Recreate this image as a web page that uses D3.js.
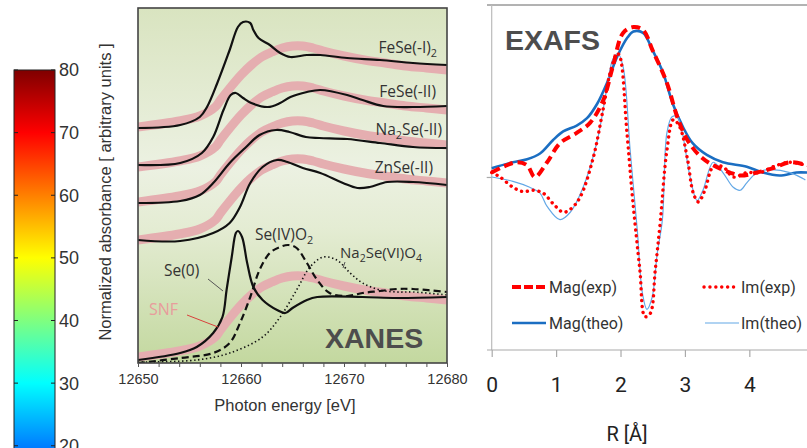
<!DOCTYPE html>
<html><head><meta charset="utf-8">
<script src="https://cdn.jsdelivr.net/npm/d3@7"></script>
<style>body{margin:0;background:#fff;} svg{display:block;}</style>
</head><body><svg id="c" width="807" height="448"></svg>
<script>
// ---------- DATA ----------
const colorbarTicks = [20, 30, 40, 50, 60, 70, 80];
const colorbarDomain = [0, 80];
const xanesTicks = [12650, 12660, 12670, 12680];

// SNF spectrum shape (pink band), repeated under each reference with an offset
const snfE = [12650, 12654, 12656, 12657.5, 12658, 12659, 12660, 12661, 12662, 12663, 12664, 12665, 12666, 12667, 12668, 12670, 12672, 12674, 12676, 12678, 12680];
const snfV = [0, 0.06, 0.11, 0.2, 0.27, 0.40, 0.52, 0.62, 0.70, 0.75, 0.79, 0.81, 0.81, 0.79, 0.76, 0.71, 0.67, 0.64, 0.61, 0.59, 0.57];
const snfOffsets = [2.36, 1.96, 1.61, 1.23, 0.06];

const feSeI2E = [12650, 12654.1, 12656, 12656.7, 12657.7, 12658.9, 12659.7, 12660.2, 12660.9, 12661.2, 12661.7, 12662.8, 12663.8, 12664.8, 12666.4, 12667.7, 12670.3, 12673.5, 12676.7, 12680];
const feSeI2V = [2.35, 2.38, 2.46, 2.56, 2.80, 3.13, 3.36, 3.41, 3.40, 3.33, 3.25, 3.18, 3.10, 3.06, 3.08, 3.08, 3.05, 3.03, 3.00, 2.98];

const feSeIIE = [12650, 12654.1, 12656.2, 12657.3, 12658.3, 12659, 12659.5, 12660.2, 12661, 12662.6, 12663.8, 12664.8, 12666.4, 12667.7, 12670.3, 12671.8, 12673.8, 12676.7, 12680];
const feSeIIV = [1.98, 2.00, 2.10, 2.26, 2.53, 2.68, 2.70, 2.65, 2.60, 2.56, 2.60, 2.66, 2.71, 2.73, 2.68, 2.63, 2.57, 2.56, 2.57];

const na2SeE = [12650, 12654.1, 12656, 12657.3, 12658.9, 12660.5, 12661.8, 12663.4, 12664.7, 12666.3, 12667.6, 12670.3, 12673.5, 12676.7, 12680];
const na2SeV = [1.60, 1.62, 1.68, 1.80, 2.00, 2.16, 2.28, 2.33, 2.31, 2.26, 2.25, 2.24, 2.20, 2.16, 2.15];

const znSeE = [12650, 12654.1, 12657.3, 12658.9, 12659.9, 12660.9, 12662.1, 12663.5, 12664.5, 12666, 12667.7, 12669.9, 12671.3, 12672.5, 12674.2, 12676.7, 12680];
const znSeV = [1.23, 1.22, 1.30, 1.40, 1.56, 1.80, 1.96, 2.03, 2.01, 1.95, 1.90, 1.80, 1.75, 1.76, 1.81, 1.81, 1.78];

const se0E = [12650, 12654.1, 12655.7, 12657.3, 12658.2, 12658.6, 12659.1, 12659.5, 12659.7, 12660.1, 12660.6, 12661.2, 12662.1, 12663.5, 12664.3, 12665, 12666.4, 12667.4, 12671.8, 12675.1, 12680];
const se0V = [0.03, 0.10, 0.16, 0.30, 0.46, 0.73, 1.06, 1.30, 1.32, 1.26, 1.00, 0.76, 0.63, 0.53, 0.50, 0.55, 0.63, 0.66, 0.66, 0.65, 0.66];

const seO2E = [12650, 12654.1, 12657.3, 12658.9, 12659.9, 12660.9, 12661.8, 12662.8, 12663.8, 12664.6, 12665.4, 12666.4, 12667.4, 12668.6, 12670.3, 12671.8, 12673.5, 12675.1, 12676.7, 12680];
const seO2V = [0.00, 0.05, 0.10, 0.20, 0.40, 0.66, 0.93, 1.10, 1.16, 1.18, 1.15, 1.00, 0.83, 0.70, 0.67, 0.70, 0.72, 0.74, 0.74, 0.71];

const na2SeO4E = [12650, 12655.7, 12658.9, 12662.1, 12663.8, 12665.4, 12666.7, 12668, 12669.3, 12670.6, 12671.8, 12673.5, 12675.1, 12676.7, 12680];
const na2SeO4V = [0.01, 0.03, 0.10, 0.26, 0.46, 0.73, 0.96, 1.06, 1.03, 0.90, 0.80, 0.73, 0.71, 0.71, 0.68];

// EXAFS
const exafsTicks = [0, 1, 2, 3, 4];
const magTheoR = [0, 0.33, 0.55, 0.75, 0.95, 1.11, 1.32, 1.48, 1.64, 1.79, 1.95, 2.11, 2.20, 2.35, 2.50, 2.66, 2.81, 2.97, 3.12, 3.34, 3.59, 3.96, 4.21, 4.47, 4.73, 4.90];
const magTheoV = [0.06, 0.10, 0.12, 0.16, 0.25, 0.31, 0.35, 0.40, 0.50, 0.64, 0.82, 0.95, 0.99, 0.98, 0.86, 0.71, 0.50, 0.34, 0.23, 0.15, 0.10, 0.07, 0.03, 0.01, 0.03, 0.03];

const magExpR = [0, 0.18, 0.39, 0.55, 0.67, 0.86, 1.06, 1.32, 1.53, 1.73, 1.88, 2.04, 2.20, 2.35, 2.50, 2.72, 2.88, 3.04, 3.24, 3.44, 3.70, 3.86, 4.12, 4.37, 4.63, 4.90];
const magExpV = [0.03, 0.07, 0.10, 0.08, 0.00, 0.10, 0.23, 0.30, 0.37, 0.52, 0.75, 0.98, 1.02, 1.00, 0.86, 0.64, 0.41, 0.25, 0.14, 0.08, 0.03, 0.01, 0.03, 0.06, 0.10, 0.08];

const imExpR = [0, 0.13, 0.33, 0.49, 0.64, 0.80, 0.95, 1.11, 1.22, 1.37, 1.57, 1.73, 1.84, 1.95, 1.99, 2.10, 2.19, 2.30, 2.38, 2.46, 2.54, 2.62, 2.72, 2.82, 2.92, 3.04, 3.13, 3.21, 3.31, 3.44, 3.59, 3.75, 3.96, 4.17, 4.37, 4.63, 4.87];
const imExpV = [0.03, 0.00, -0.07, -0.10, -0.09, -0.11, -0.18, -0.24, -0.22, -0.14, 0.12, 0.46, 0.71, 0.84, 0.82, 0.30, -0.16, -0.63, -0.95, -0.93, -0.63, -0.29, 0.18, 0.39, 0.34, 0.12, -0.11, -0.17, -0.09, 0.07, 0.07, 0.00, 0.03, 0.03, 0.07, 0.10, 0.08];

const imTheoR = [0, 0.33, 0.59, 0.75, 0.86, 1.06, 1.22, 1.42, 1.64, 1.79, 1.88, 1.96, 2.04, 2.15, 2.26, 2.34, 2.41, 2.49, 2.57, 2.65, 2.72, 2.80, 2.88, 2.96, 3.08, 3.19, 3.28, 3.44, 3.59, 3.75, 3.86, 3.96, 4.12, 4.32, 4.63, 4.87];
const imTheoV = [0.00, -0.03, -0.07, -0.11, -0.20, -0.29, -0.24, -0.07, 0.25, 0.61, 0.80, 0.84, 0.75, 0.18, -0.36, -0.79, -0.90, -0.82, -0.52, -0.29, 0.30, 0.41, 0.41, 0.30, 0.00, -0.16, -0.09, 0.10, 0.03, -0.07, -0.09, -0.04, 0.03, 0.05, 0.03, -0.02];

// ---------- DRAW ----------
const svg = d3.select("#c");
const defs = svg.append("defs");
const zip = (a, b) => a.map((d, i) => [d, b[i]]);
const sans = "Liberation Sans, Arial, sans-serif";
const calib = "Roboto, Open Sans, sans-serif";

// Colorbar (jet)
const cbY = d3.scaleLinear().domain(colorbarDomain).range([571, 70]);
const jet = [[0, "#00007f"], [0.125, "#0000ff"], [0.375, "#00ffff"], [0.625, "#ffff00"], [0.875, "#ff0000"], [1, "#7f0000"]];
const cg = defs.append("linearGradient").attr("id", "jet").attr("gradientUnits", "userSpaceOnUse")
  .attr("x1", 0).attr("x2", 0).attr("y1", cbY(colorbarDomain[0])).attr("y2", cbY(colorbarDomain[1]));
jet.forEach(s => cg.append("stop").attr("offset", s[0]).attr("stop-color", s[1]));
const cb = svg.append("g");
cb.append("rect").attr("x", 14).attr("y", cbY(80)).attr("width", 41).attr("height", cbY(0) - cbY(80))
  .attr("fill", "url(#jet)").attr("stroke", "#222").attr("stroke-width", 1);
colorbarTicks.forEach(t => {
  cb.append("line").attr("x1", 14).attr("x2", 18).attr("y1", cbY(t)).attr("y2", cbY(t)).attr("stroke", "#222");
  cb.append("line").attr("x1", 51).attr("x2", 55).attr("y1", cbY(t)).attr("y2", cbY(t)).attr("stroke", "#222");
  cb.append("text").attr("x", 59).attr("y", cbY(t)).attr("dy", "0.36em")
    .attr("font-family", sans).attr("font-size", 18).attr("fill", "#333").text(t);
});

// XANES panel
const xX = d3.scaleLinear().domain([12650, 12680]).range([138, 447]);
const yX = d3.scaleLinear().domain([0, 3.55]).range([363, 8]);
const gg = defs.append("linearGradient").attr("id", "grn").attr("x1", 0).attr("x2", 0).attr("y1", 0).attr("y2", 1);
[[0, "#d9e4c0"], [0.45, "#ecf1e2"], [0.62, "#e4ecd3"], [1, "#c3d89f"]].forEach(s => gg.append("stop").attr("offset", s[0]).attr("stop-color", s[1]));
defs.append("clipPath").attr("id", "xclip").append("rect").attr("x", 138).attr("y", 8).attr("width", 309).attr("height", 355);
const xp = svg.append("g");
xp.append("rect").attr("x", 138).attr("y", 8).attr("width", 309).attr("height", 355).attr("fill", "url(#grn)");
const xc = xp.append("g").attr("clip-path", "url(#xclip)");
const lineX = d3.line().x(d => xX(d[0])).y(d => yX(d[1])).curve(d3.curveCatmullRom.alpha(0.5));

snfOffsets.forEach(o => {
  xc.append("path").attr("d", lineX(snfE.map((e, i) => [e, snfV[i] + o])))
    .attr("fill", "none").attr("stroke", "#e5aeb0").attr("stroke-width", 9).attr("stroke-linecap", "butt");
});
[[feSeI2E, feSeI2V], [feSeIIE, feSeIIV], [na2SeE, na2SeV], [znSeE, znSeV], [se0E, se0V]].forEach(s => {
  xc.append("path").attr("d", lineX(zip(s[0], s[1]))).attr("fill", "none").attr("stroke", "#111").attr("stroke-width", 2.2);
});
xc.append("path").attr("d", lineX(zip(seO2E, seO2V))).attr("fill", "none").attr("stroke", "#111")
  .attr("stroke-width", 2.2).attr("stroke-dasharray", "7,4");
xc.append("path").attr("d", lineX(zip(na2SeO4E, na2SeO4V))).attr("fill", "none").attr("stroke", "#111")
  .attr("stroke-width", 1.6).attr("stroke-dasharray", "1.4,2.6");

xp.append("rect").attr("x", 138).attr("y", 8).attr("width", 309).attr("height", 355)
  .attr("fill", "none").attr("stroke", "#444").attr("stroke-width", 1.6);

const ax = xp.append("g").attr("transform", "translate(0,363)")
  .call(d3.axisBottom(xX).tickValues(d3.range(12650, 12681, 2)).tickSize(4).tickPadding(7)
    .tickFormat(d => xanesTicks.includes(d) ? d : ""));
ax.select(".domain").remove();
ax.selectAll("line").attr("stroke", "#555");
ax.selectAll("text").attr("font-family", sans).attr("font-size", 14.5).attr("fill", "#333");

const lbl = (x, y, anchor, parts, size, fill) => {
  const t = xp.append("text").attr("x", x).attr("y", y).attr("text-anchor", anchor)
    .attr("font-family", "Open Sans, sans-serif").attr("font-size", size).attr("fill", fill || "#333");
  let low = false;
  parts.forEach(p => {
    if (typeof p === "string") { t.append("tspan").attr("dy", low ? -4 : 0).text(p); low = false; }
    else { t.append("tspan").attr("font-size", size * 0.7).attr("dy", 4).text(p.sub); low = true; }
  });
  return t;
};
lbl(437, 53, "end", ["FeSe(-I)", {sub: "2"}], 15.5);
lbl(436, 97, "end", ["FeSe(-II)"], 15.5);
lbl(442, 135, "end", ["Na", {sub: "2"}, "Se(-II)"], 15.5);
lbl(433, 173, "end", ["ZnSe(-II)"], 15.5);
lbl(255, 240, "start", ["Se(IV)O", {sub: "2"}], 15.5);
lbl(340, 258, "start", ["Na", {sub: "2"}, "Se(VI)O", {sub: "4"}], 15);
lbl(164, 276, "start", ["Se(0)"], 15.5);
lbl(149, 315, "start", ["SNF"], 16, "#e89c9c");
xp.append("line").attr("x1", 208).attr("y1", 279).attr("x2", 223).attr("y2", 291).attr("stroke", "#555").attr("stroke-width", 1);
xp.append("line").attr("x1", 345).attr("y1", 262).attr("x2", 343).attr("y2", 268).attr("stroke", "#555").attr("stroke-width", 1);
xp.append("line").attr("x1", 187).attr("y1", 315).attr("x2", 218).attr("y2", 327).attr("stroke", "#d9413c").attr("stroke-width", 1);
xp.append("text").attr("x", 325).attr("y", 348).attr("font-family", sans)
  .attr("font-weight", "bold").attr("font-size", 28.5).attr("fill", "#4d4d4d").text("XANES");
xp.append("text").attr("x", 285).attr("y", 411).attr("text-anchor", "middle").attr("font-family", sans)
  .attr("font-size", 16.5).attr("fill", "#333").text("Photon energy [eV]");
xp.append("text").attr("transform", "translate(111,192) rotate(-90)").attr("text-anchor", "middle")
  .attr("font-family", sans).attr("font-size", 16.5).attr("fill", "#333")
  .text("Normalized absorbance [ arbitrary units ]");

// EXAFS panel
const xE = d3.scaleLinear().domain([0, 4.9]).range([491.7, 807.3]);
const yE = d3.scaleLinear().domain([-1.177, 1.170]).range([350, 5]);
const ep = svg.append("g");
ep.append("line").attr("x1", 487).attr("x2", 807).attr("y1", 5).attr("y2", 5).attr("stroke", "#666").attr("stroke-width", 1);
ep.append("line").attr("x1", 491.7).attr("x2", 491.7).attr("y1", 5).attr("y2", 350).attr("stroke", "#bbb").attr("stroke-width", 1.2);
ep.append("line").attr("x1", 487).attr("x2", 807).attr("y1", 350).attr("y2", 350).attr("stroke", "#aaa").attr("stroke-width", 1.2);
const exa = ep.append("g").attr("transform", "translate(0,350)")
  .call(d3.axisBottom(xE).tickValues(exafsTicks).tickSize(7).tickPadding(20).tickSizeOuter(0).tickFormat(d3.format("d")));
exa.select(".domain").remove();
exa.selectAll("line").attr("stroke", "#aaa").attr("stroke-width", 1.2);
exa.selectAll("text").attr("font-family", calib).attr("font-size", 21).attr("fill", "#222");
const eya = ep.append("g").attr("transform", "translate(491.7,0)")
  .call(d3.axisLeft(yE).tickValues([0]).tickSize(5).tickFormat(""));
eya.select(".domain").remove();
eya.selectAll("line").attr("stroke", "#aaa").attr("stroke-width", 1.2);

const lineE = d3.line().x(d => xE(d[0])).y(d => yE(d[1])).curve(d3.curveCatmullRom.alpha(0.5));
ep.append("path").attr("d", lineE(zip(magTheoR, magTheoV))).attr("fill", "none").attr("stroke", "#1b6ec2").attr("stroke-width", 2.6);
ep.append("path").attr("d", lineE(zip(imTheoR, imTheoV))).attr("fill", "none").attr("stroke", "#63a8e6").attr("stroke-width", 1.2);
ep.append("path").attr("d", lineE(zip(imExpR, imExpV))).attr("fill", "none").attr("stroke", "#ff0000")
  .attr("stroke-width", 3.4).attr("stroke-linecap", "round").attr("stroke-dasharray", "0.1,5.8");
ep.append("path").attr("d", lineE(zip(magExpR, magExpV))).attr("fill", "none").attr("stroke", "#ff0000")
  .attr("stroke-width", 4).attr("stroke-dasharray", "9,5");

const leg = ep.append("g");
leg.append("line").attr("x1", 512).attr("x2", 546).attr("y1", 287).attr("y2", 287).attr("stroke", "#ff0000").attr("stroke-width", 4).attr("stroke-dasharray", "9,3");
leg.append("line").attr("x1", 704).attr("x2", 738).attr("y1", 287).attr("y2", 287).attr("stroke", "#ff0000").attr("stroke-width", 3.4).attr("stroke-linecap", "round").attr("stroke-dasharray", "0.1,5.8");
leg.append("line").attr("x1", 512).attr("x2", 546).attr("y1", 323).attr("y2", 323).attr("stroke", "#1b6ec2").attr("stroke-width", 2.6);
leg.append("line").attr("x1", 705).attr("x2", 739).attr("y1", 323).attr("y2", 323).attr("stroke", "#63a8e6").attr("stroke-width", 1.2);
[["Mag(exp)", 549, 293], ["Im(exp)", 741, 293], ["Mag(theo)", 549, 329], ["Im(theo)", 741, 329]].forEach(d => {
  leg.append("text").attr("x", d[1]).attr("y", d[2]).attr("font-family", calib).attr("font-size", 16).attr("fill", "#333").text(d[0]);
});
ep.append("text").attr("x", 505).attr("y", 50).attr("font-family", sans)
  .attr("font-weight", "bold").attr("font-size", 28.5).attr("fill", "#4d4d4d").text("EXAFS");
ep.append("text").attr("x", 627).attr("y", 441).attr("text-anchor", "middle").attr("font-family", calib)
  .attr("font-size", 20).attr("fill", "#222").text("R [Å]");
</script></body></html>
